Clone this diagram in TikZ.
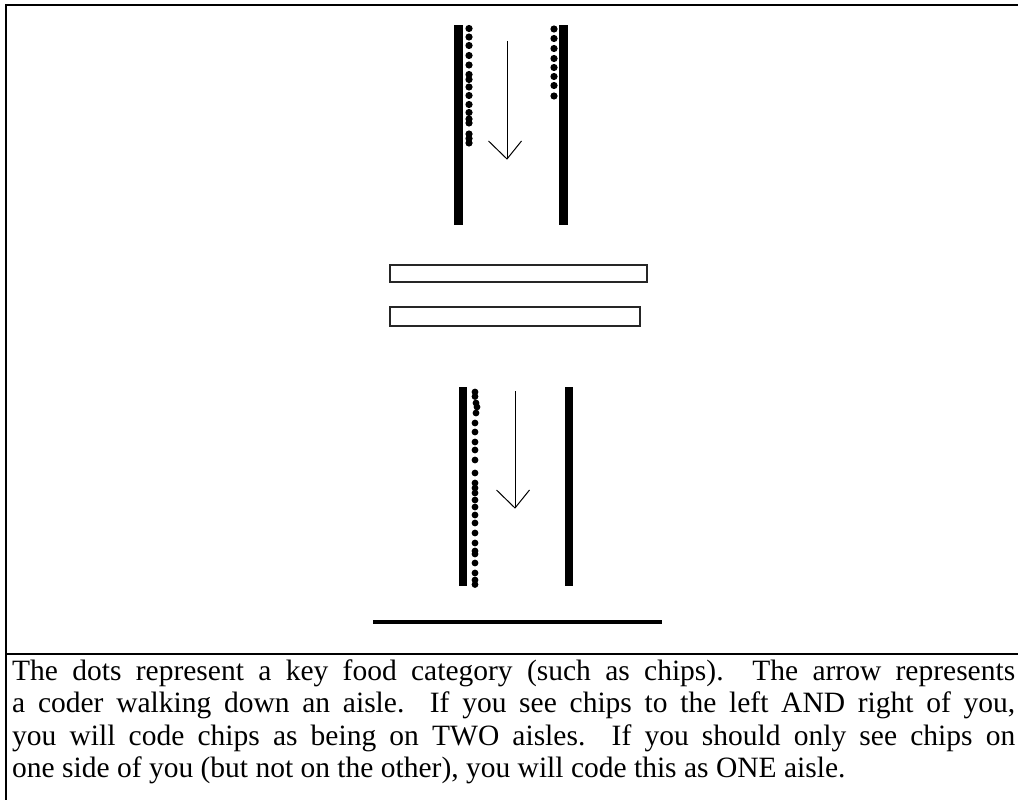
\documentclass[tikz,border=0pt]{standalone}
\usepackage{fontspec}
\setmainfont{Liberation Serif}
\usetikzlibrary{calc}
\frenchspacing
\tikzset{
  shelf/.style={fill=black},
  chip/.style={fill=black},
  walk/.style={line width=1pt},
  counter/.style={draw=black!85, line width=1.6pt},
  frame/.style={line width=2.6pt},
  caption/.style={anchor=base west, inner sep=0pt, font=\fontsize{29.5}{32}\selectfont}
}
% a justified caption line, spaces stretched to the full text width
\newcommand{\fullline}[1]{\makebox[1003pt][s]{#1}}
\begin{document}
\begin{tikzpicture}[x=1pt, y=-1pt]
\useasboundingbox (0,0) rectangle (1018,800);

% outer frame and separator
\draw[frame] (6,800) -- (6,5) -- (1018,5);
\draw[frame] (6,654) -- (1018,654);

% upper aisle: shelves
\fill[shelf] (454,25) rectangle (463,225);
\fill[shelf] (559,25) rectangle (568,225);
% chips on both sides
\foreach \y in {28.5,37,45.5,55.5,65,74.5,79.5,87,95.5,104.5,112.5,119,123,134,138.5,143}
  \fill[chip] (469,\y) circle (3.6);
\foreach \y in {29,38.5,48.5,58.5,67.5,76.5,85.5,96}
  \fill[chip] (554,\y) circle (3.6);
% walking direction
\coordinate (a1s) at (507,41);
\coordinate (a1t) at (507,159);
\draw[walk] (a1s) -- (a1t);
\draw[walk] ($(a1t)+(-18.5,-18)$) -- (a1t) -- ($(a1t)+(14.5,-18)$);

% cross counters
\draw[counter] (390,265) rectangle (647,282);
\draw[counter] (390,307) rectangle (640,326);

% lower aisle: shelves
\fill[shelf] (459,387) rectangle (467,586);
\fill[shelf] (565,387) rectangle (573,586);
% chips on the left side only
\foreach \x/\y in {475/392,475/396.5,476/403,477/407,476/413,475/423,475/432,475/442,475/450,475/460,475/473,475/483,475/488,475/493,475/500,475/507,475/515,475/523,475/533,475/543,475/551,475/554,475/563,475/573,475/580,475/584.5}
  \fill[chip] (\x,\y) circle (3.4);
% walking direction
\coordinate (a2s) at (515,391);
\coordinate (a2t) at (515,508);
\draw[walk] (a2s) -- (a2t);
\draw[walk] ($(a2t)+(-18.5,-18)$) -- (a2t) -- ($(a2t)+(14.5,-18)$);

% end wall
\draw[line width=4pt] (373,622) -- (662,622);

% caption
\node[caption] (l1) at (12,680) {\fullline{The dots represent a key food category (such as chips).\ \ The arrow represents}};
\node[caption] (l2) at (12,712.5) {\fullline{a coder walking down an aisle.\ \ If you see chips to the left AND right of you,}};
\node[caption] (l3) at (12,745) {\fullline{you will code chips as being on TWO aisles.\ \ If you should only see chips on}};
\node[caption] (l4) at (12,777.5) {one side of you (but not on the other), you will code this as ONE aisle.};
\end{tikzpicture}
\end{document}
